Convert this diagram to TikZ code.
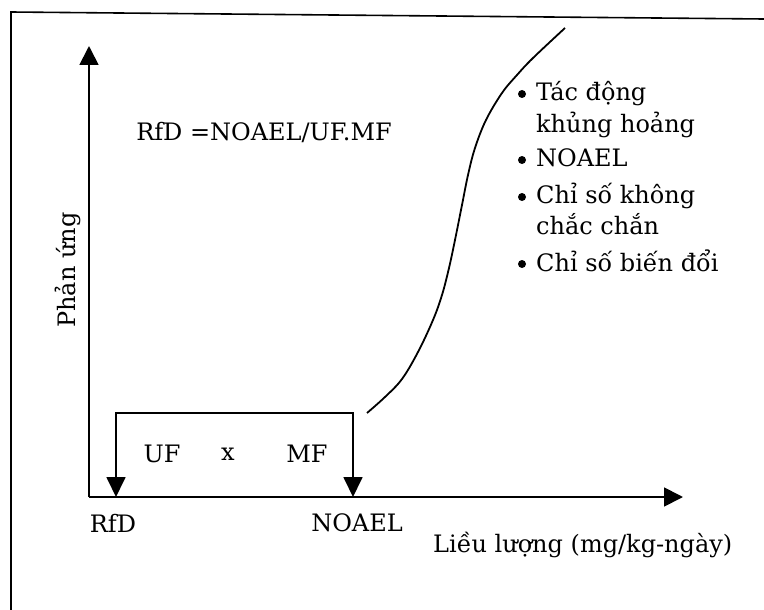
\documentclass[tikz,border=0pt]{standalone}
\usepackage{fontspec}
\setmainfont{DejaVu Serif}
\usetikzlibrary{arrows.meta}
\tikzset{
  lbl/.style={font=\fontsize{24}{30}\selectfont, inner sep=0pt},
  axisline/.style={line width=1.8pt, -{Triangle[length=19pt,width=19pt]}},
  dimline/.style={line width=1.8pt, {Triangle[length=20pt,width=19pt]}-{Triangle[length=20pt,width=19pt]}},
  bdot/.style={circle, fill, inner sep=0pt, minimum size=8pt},
  frameline/.style={line width=1.6pt},
  curveline/.style={line width=1.8pt},
}
\begin{document}
\begin{tikzpicture}[x=1pt,y=-1pt]
\useasboundingbox (0,0) rectangle (764,610);
% frame
\draw[frameline] (11,610) -- (11,12) -- (764,19);
% axes
\coordinate (o) at (89,497);
\coordinate (ytip) at (89,46);
\coordinate (xtip) at (683,497);
\draw[axisline] (o) -- (ytip);
\draw[axisline] (o) -- (xtip);
% UF x MF bracket
\coordinate (rfd) at (116,497);
\coordinate (noael) at (353,497);
\coordinate (bt) at (234,413);
\draw[dimline] (rfd) |- (bt) -| (noael);
% dose-response curve
\draw[curveline] plot[smooth, tension=0.6] coordinates {(367,413) (385,397) (402,379) (418,352) (433,320) (442,295) (449,268) (455,240) (462,205) (468,175) (475,148) (486,120) (502,93) (517,75) (533,58) (565,28)};
% labels
\node[lbl] (formula) at (264,132) {RfD =NOAEL/UF.MF};
\node[lbl, rotate=90] (ylabel) at (68,270) {Phản ứng};
\node[lbl] (uf) at (162,454) {UF};
\node[lbl] (times) at (228,454) {x};
\node[lbl] (mf) at (307,454) {MF};
\node[lbl] (rfdlabel) at (113,523) {RfD};
\node[lbl] (noaellabel) at (357,523) {NOAEL};
\node[lbl, anchor=west] (xlabel) at (433,545) {Liều lượng (mg/kg-ngày)};
% bullet list
\node[lbl, anchor=base west] (b1a) at (536,101) {Tác động};
\node[lbl, anchor=base west] (b1b) at (536,132) {khủng hoảng};
\node[lbl, anchor=base west] (b2) at (536,167) {NOAEL};
\node[lbl, anchor=base west] (b3a) at (536,204) {Chỉ số không};
\node[lbl, anchor=base west] (b3b) at (536,234) {chắc chắn};
\node[lbl, anchor=base west] (b4) at (536,271) {Chỉ số biến đổi};
\node[bdot] (d1) at (522,94) {};
\node[bdot] (d2) at (522,160) {};
\node[bdot] (d3) at (522,197) {};
\node[bdot] (d4) at (522,264) {};
\end{tikzpicture}
\end{document}
